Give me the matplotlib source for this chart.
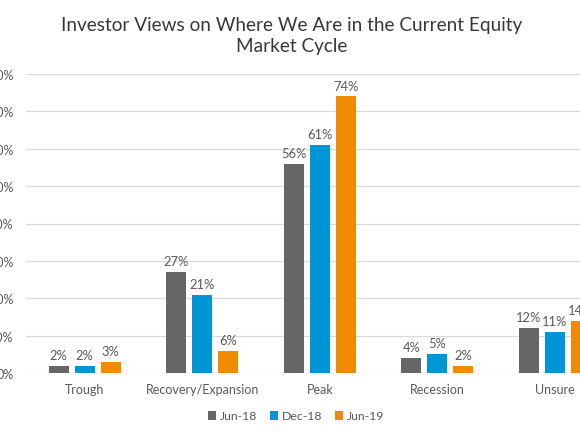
import matplotlib.pyplot as plt
import numpy as np

categories = ["Trough", "Recovery/Expansion", "Peak", "Recession", "Unsure"]
series_names = ["Jun-18", "Dec-18", "Jun-19"]
jun18 = [2, 27, 56, 4, 12]
dec18 = [2, 21, 61, 5, 11]
jun19 = [3, 6, 74, 2, 14]
yticks = [0, 10, 20, 30, 40, 50, 60, 70, 80]

colors = ["#666666", "#0096d6", "#f08a00"]

plt.rcParams["font.family"] = ["Lato", "DejaVu Sans"]

fig = plt.figure(figsize=(5.8, 4.35), dpi=100)
# plot area runs past the right edge, as in the reference crop
ax = fig.add_axes([26 / 580, 61 / 435, 587.5 / 580, 299 / 435])

x = np.arange(len(categories))
width = 0.17
step = 0.221

for i, (vals, name) in enumerate(zip([jun18, dec18, jun19], series_names)):
    pos = x + (i - 1) * step
    bars = ax.bar(pos, vals, width, color=colors[i], label=name, zorder=3)
    for bar, v in zip(bars, vals):
        ax.text(bar.get_x() + bar.get_width() / 2, v + 1.3, f"{v}%",
                ha="center", va="bottom", fontsize=9.3, color="#595959")

ax.set_xlim(-0.5, len(categories) - 0.5)
ax.set_ylim(0, 80)
ax.set_yticks(yticks)
ax.set_yticklabels([f"{t}%" for t in yticks])
ax.set_xticks(x)
ax.set_xticklabels(categories)
ax.tick_params(axis="both", length=0, labelsize=9, colors="#595959")
ax.tick_params(axis="y", pad=9)
ax.tick_params(axis="x", pad=7)
ax.grid(axis="y", color="#d9d9d9", linewidth=0.9, zorder=0)
for s in ax.spines.values():
    s.set_visible(False)

fig.text(0.503, 0.962, "Investor Views on Where We Are in the Current Equity\nMarket Cycle",
         ha="center", va="top", fontsize=13.7, color="#383838", linespacing=1.35)

leg = fig.legend(loc="center", bbox_to_anchor=(296 / 580, 1 - 417 / 435), ncol=3,
                 frameon=False, fontsize=8.8, handlelength=0.7, handleheight=0.7,
                 handletextpad=0.3, columnspacing=1.0)
for t in leg.get_texts():
    t.set_color("#595959")

fig.savefig("out.png", dpi=100)
